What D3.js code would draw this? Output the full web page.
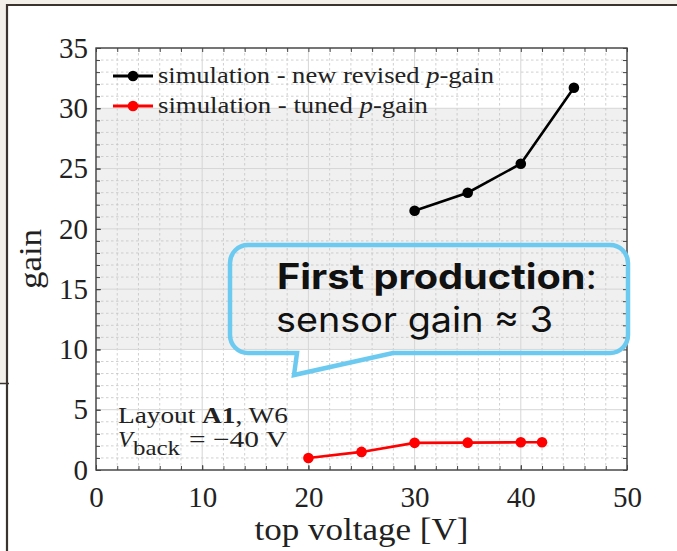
<!DOCTYPE html>
<html>
<head>
<meta charset="utf-8">
<script src="https://cdn.jsdelivr.net/npm/d3@7"></script>
<style>
  html, body { margin: 0; padding: 0; background: #fff; }
  svg { display: block; }
</style>
</head>
<body>
<svg id="chart" width="677" height="551"></svg>
<script>
// Gain vs. top voltage for two simulated p-gain layer configurations
const revisedVoltage = [30, 35, 40, 45];
const revisedGain    = [21.5, 23.0, 25.4, 31.7];
const tunedVoltage   = [20, 25, 30, 35, 40, 42];
const tunedGain      = [1.0, 1.5, 2.25, 2.27, 2.3, 2.3];

const xTicks = [0, 10, 20, 30, 40, 50];
const yTicks = [0, 5, 10, 15, 20, 25, 30, 35];
const xMinorTicks = d3.range(0, 51, 2);
const yMinorTicks = d3.range(0, 36, 1);
const bandRange = [10, 30];

const legendLabels = [
  { pre: "simulation - new revised ", it: "p", post: "-gain", color: "#000" },
  { pre: "simulation - tuned ", it: "p", post: "-gain", color: "#ff0000" }
];

const svg = d3.select("#chart");
const W = 677, H = 551;
const serif = "'Liberation Serif', 'DejaVu Serif', serif";
const sans = "Inter, 'Open Sans', Lato, sans-serif";

// slide frame behind the figure
svg.append("rect").attr("width", W).attr("height", H).attr("fill", "#f3f0ea");
svg.append("rect").attr("x", 0).attr("y", 384).attr("width", 8).attr("height", H - 384).attr("fill", "#fff");
svg.append("rect").attr("x", 8).attr("y", 6).attr("width", W - 8).attr("height", H - 6).attr("fill", "#fff");
svg.append("line").attr("x1", 0).attr("x2", 9).attr("y1", 383.5).attr("y2", 383.5)
  .attr("stroke", "#3b342e").attr("stroke-width", 1.5);
svg.append("line").attr("x1", 6).attr("x2", W).attr("y1", 5).attr("y2", 5)
  .attr("stroke", "#3b342e").attr("stroke-width", 2.2);
svg.append("line").attr("x1", 7).attr("x2", 7).attr("y1", 4).attr("y2", H)
  .attr("stroke", "#3b342e").attr("stroke-width", 2.2);

const m = { left: 96, right: 627, top: 48, bottom: 470 };
const x = d3.scaleLinear().domain([0, 50]).range([m.left, m.right]);
const y = d3.scaleLinear().domain([0, 35]).range([m.bottom, m.top]);

// shaded band
svg.append("rect")
  .attr("x", x(0)).attr("width", x(50) - x(0))
  .attr("y", y(bandRange[1])).attr("height", y(bandRange[0]) - y(bandRange[1]))
  .attr("fill", "#f0f0f0");

// grid
const grid = svg.append("g");
grid.selectAll(".vminor").data(xMinorTicks.filter(v => v % 10 !== 0)).join("line")
  .attr("x1", d => x(d)).attr("x2", d => x(d)).attr("y1", m.top).attr("y2", m.bottom)
  .attr("stroke", "#c4c4c4").attr("stroke-width", 0.8).attr("stroke-dasharray", "2.5,2.5");
grid.selectAll(".hminor").data(yMinorTicks.filter(v => v % 5 !== 0)).join("line")
  .attr("y1", d => y(d)).attr("y2", d => y(d)).attr("x1", m.left).attr("x2", m.right)
  .attr("stroke", "#c4c4c4").attr("stroke-width", 0.8).attr("stroke-dasharray", "2.5,2.5");
grid.selectAll(".vmajor").data(xTicks).join("line")
  .attr("x1", d => x(d)).attr("x2", d => x(d)).attr("y1", m.top).attr("y2", m.bottom)
  .attr("stroke", "#d6d6d6").attr("stroke-width", 1);
grid.selectAll(".hmajor").data(yTicks).join("line")
  .attr("y1", d => y(d)).attr("y2", d => y(d)).attr("x1", m.left).attr("x2", m.right)
  .attr("stroke", "#d6d6d6").attr("stroke-width", 1);

// axes with inward ticks on all four sides
function styleAxis(g) {
  g.select(".domain").remove();
  g.selectAll(".tick line").attr("stroke", "#444").attr("stroke-width", 1);
  g.selectAll("text").attr("font-family", serif).attr("font-size", 29).attr("fill", "#222");
}
svg.append("g").attr("transform", `translate(0,${m.bottom})`)
  .call(d3.axisBottom(x).tickValues(xTicks).tickSize(-5).tickPadding(16.5).tickFormat(d3.format("d")))
  .call(styleAxis);
svg.append("g").attr("transform", `translate(0,${m.bottom})`)
  .call(d3.axisBottom(x).tickValues(xMinorTicks).tickSize(-4).tickFormat(""))
  .call(styleAxis);
svg.append("g").attr("transform", `translate(0,${m.top})`)
  .call(d3.axisTop(x).tickValues(xMinorTicks).tickSize(-4).tickFormat(""))
  .call(styleAxis);
svg.append("g").attr("transform", `translate(${m.left},0)`)
  .call(d3.axisLeft(y).tickValues(yTicks).tickSize(-5).tickPadding(8).tickFormat(d3.format("d")))
  .call(styleAxis);
svg.append("g").attr("transform", `translate(${m.left},0)`)
  .call(d3.axisLeft(y).tickValues(yMinorTicks).tickSize(-4).tickFormat(""))
  .call(styleAxis);
svg.append("g").attr("transform", `translate(${m.right},0)`)
  .call(d3.axisRight(y).tickValues(yMinorTicks).tickSize(-4).tickFormat(""))
  .call(styleAxis);

// plot box
svg.append("rect")
  .attr("x", m.left).attr("y", m.top)
  .attr("width", m.right - m.left).attr("height", m.bottom - m.top)
  .attr("fill", "none").attr("stroke", "#444").attr("stroke-width", 1.4);

// axis titles
svg.append("text")
  .attr("x", (m.left + m.right) / 2 + 0).attr("y", 540)
  .attr("text-anchor", "middle")
  .attr("font-family", serif).attr("font-size", 31).attr("fill", "#222")
  .attr("textLength", 214).attr("lengthAdjust", "spacingAndGlyphs")
  .text("top voltage [V]");
svg.append("text")
  .attr("transform", `translate(41,${(m.top + m.bottom) / 2}) rotate(-90)`)
  .attr("text-anchor", "middle")
  .attr("font-family", serif).attr("font-size", 31).attr("fill", "#222")
  .attr("textLength", 60).attr("lengthAdjust", "spacingAndGlyphs")
  .text("gain");

// series
const line = d3.line().x(d => x(d[0])).y(d => y(d[1]));
const series = [
  { pts: d3.zip(revisedVoltage, revisedGain), color: "#000" },
  { pts: d3.zip(tunedVoltage, tunedGain), color: "#ff0000" }
];
series.forEach(s => {
  svg.append("path").attr("d", line(s.pts))
    .attr("fill", "none").attr("stroke", s.color).attr("stroke-width", 2.6);
  svg.append("g").selectAll("circle").data(s.pts).join("circle")
    .attr("cx", d => x(d[0])).attr("cy", d => y(d[1])).attr("r", 5.3)
    .attr("fill", s.color);
});

// legend
const legendY = [76, 106];
const legendW = [336, 270];
legendLabels.forEach((l, i) => {
  const g = svg.append("g");
  g.append("line").attr("x1", 113).attr("x2", 153).attr("y1", legendY[i]).attr("y2", legendY[i])
    .attr("stroke", l.color).attr("stroke-width", 3);
  g.append("circle").attr("cx", 133).attr("cy", legendY[i]).attr("r", 5.3).attr("fill", l.color);
  const t = g.append("text").attr("x", 158).attr("y", legendY[i] + 6.5)
    .attr("font-family", serif).attr("font-size", 23).attr("fill", "#222")
    .attr("textLength", legendW[i]).attr("lengthAdjust", "spacingAndGlyphs");
  t.append("tspan").text(l.pre);
  t.append("tspan").attr("font-style", "italic").text(l.it);
  t.append("tspan").text(l.post);
});

// layout annotation
const note = svg.append("g").attr("font-family", serif).attr("fill", "#222");
const n1 = note.append("text").attr("x", 118).attr("y", 423).attr("font-size", 23)
  .attr("textLength", 170).attr("lengthAdjust", "spacingAndGlyphs");
n1.append("tspan").text("Layout ");
n1.append("tspan").attr("font-weight", "bold").text("A1");
n1.append("tspan").text(", W6");
note.append("text").attr("x", 118).attr("y", 447).attr("font-size", 24)
  .attr("font-style", "italic").text("V");
note.append("text").attr("x", 133).attr("y", 455).attr("font-size", 22)
  .attr("textLength", 47).attr("lengthAdjust", "spacingAndGlyphs").text("back");
note.append("text").attr("x", 189).attr("y", 447).attr("font-size", 23)
  .attr("textLength", 98).attr("lengthAdjust", "spacingAndGlyphs").text("= \u221240 V");

// speech bubble callout
const bx0 = 230, by0 = 245, bx1 = 628, by1 = 353, br = 18;
const p = d3.path();
p.moveTo(bx0 + br, by0);
p.lineTo(bx1 - br, by0);
p.arcTo(bx1, by0, bx1, by0 + br, br);
p.lineTo(bx1, by1 - br);
p.arcTo(bx1, by1, bx1 - br, by1, br);
p.lineTo(393, by1);
p.lineTo(294, 375);
p.lineTo(297, by1);
p.lineTo(bx0 + br, by1);
p.arcTo(bx0, by1, bx0, by1 - br, br);
p.lineTo(bx0, by0 + br);
p.arcTo(bx0, by0, bx0 + br, by0, br);
p.closePath();
svg.append("path").attr("d", p.toString())
  .attr("fill", "none").attr("stroke", "#6ccaf0").attr("stroke-width", 4.5)
  .attr("stroke-linejoin", "miter");

const c1 = svg.append("text").attr("x", 277).attr("y", 289)
  .attr("font-family", sans).attr("font-size", 35).attr("fill", "#111")
  .attr("textLength", 320).attr("lengthAdjust", "spacingAndGlyphs");
c1.append("tspan").attr("font-weight", 700).text("First production");
c1.append("tspan").attr("font-weight", 400).text(":");
svg.append("text").attr("x", 276).attr("y", 332)
  .attr("font-family", sans).attr("font-size", 35).attr("font-weight", 400).attr("fill", "#111")
  .attr("textLength", 277).attr("lengthAdjust", "spacingAndGlyphs")
  .text("sensor gain \u2248 3");
</script>
</body>
</html>
